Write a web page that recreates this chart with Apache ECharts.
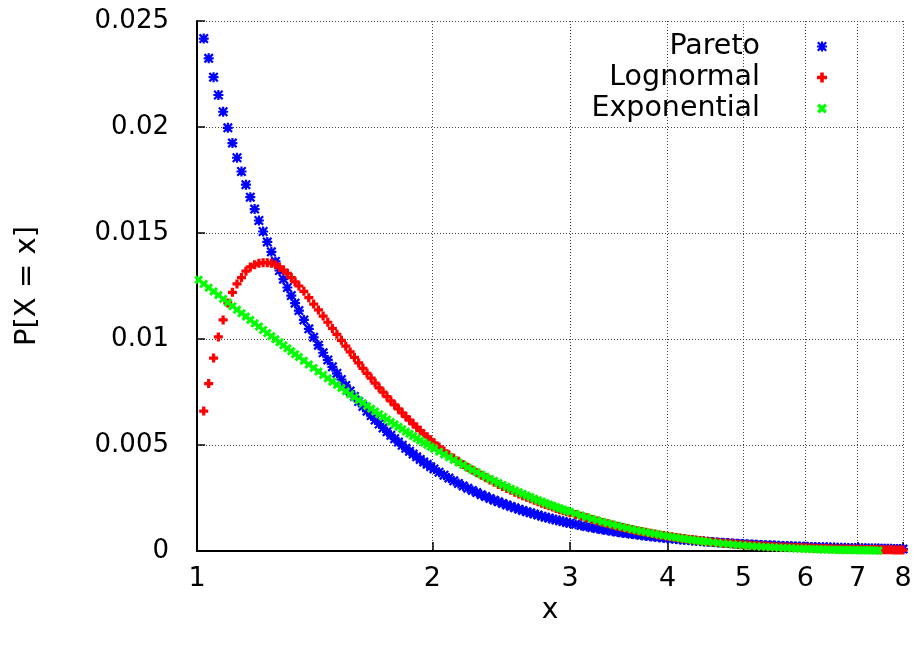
<!DOCTYPE html>
<html>
<head>
<meta charset="utf-8">
<title>P[X = x]</title>
<script src="https://cdn.jsdelivr.net/npm/echarts@6/dist/echarts.min.js"></script>
<style>
  html, body { margin: 0; padding: 0; background: #fff; }
  #chart { width: 917px; height: 649px; }
</style>
</head>
<body>
<div id="chart"></div>
<script>
// x positions of the samples
const xs = [
  1.005, 1.02, 1.035, 1.05, 1.065, 1.08, 1.095, 1.11, 1.125, 1.14, 1.155, 1.17,
  1.185, 1.2, 1.215, 1.23, 1.245, 1.26, 1.275, 1.29, 1.305, 1.32, 1.335, 1.35,
  1.37, 1.39, 1.41, 1.43, 1.45, 1.47, 1.49, 1.51, 1.53, 1.55, 1.57, 1.59, 1.61,
  1.63, 1.65, 1.67, 1.69, 1.71, 1.73, 1.75, 1.77, 1.79, 1.81, 1.83, 1.85, 1.87,
  1.89, 1.91, 1.93, 1.95, 1.97, 1.99, 2.01,
  2.04, 2.07, 2.1, 2.13, 2.16, 2.19, 2.22, 2.25, 2.28, 2.31, 2.34, 2.37, 2.4,
  2.43, 2.46, 2.49, 2.52, 2.55, 2.58, 2.61, 2.64, 2.67, 2.7, 2.73, 2.76, 2.79,
  2.82, 2.85, 2.88, 2.91, 2.94, 2.97, 3.0,
  3.05, 3.1, 3.15, 3.2, 3.25, 3.3, 3.35, 3.4, 3.45, 3.5, 3.55, 3.6, 3.65, 3.7,
  3.75, 3.8, 3.85, 3.9, 3.95, 4.0, 4.05, 4.1, 4.15, 4.2, 4.25, 4.3, 4.35, 4.4,
  4.45, 4.5,
  4.57, 4.64, 4.71, 4.78, 4.85, 4.92, 4.99, 5.06, 5.13, 5.2, 5.27, 5.34, 5.41,
  5.48, 5.55, 5.62, 5.69, 5.76, 5.83, 5.9, 5.97, 6.04, 6.11, 6.18, 6.25, 6.32,
  6.39, 6.46, 6.53, 6.6, 6.67, 6.74, 6.81, 6.88, 6.95, 7.02, 7.09, 7.16, 7.23,
  7.3, 7.37, 7.44, 7.51, 7.58, 7.65, 7.72, 7.79, 7.86, 7.93, 8.0
];

const pareto = [
  null, 0.02417, 0.02324, 0.02235, 0.02151, 0.02072, 0.01996, 0.01924, 0.01855,
  0.01790, 0.01728, 0.01669, 0.01613, 0.01559, 0.01507, 0.01458, 0.01411,
  0.01366, 0.01323, 0.01282, 0.01243, 0.01205, 0.01169, 0.01134,
  0.01090, 0.01048, 0.01008, 0.009708, 0.009351, 0.009011, 0.008688, 0.008381,
  0.008089, 0.007810, 0.007544, 0.007291, 0.007049, 0.006818, 0.006597,
  0.006386, 0.006184, 0.005990, 0.005805, 0.005628, 0.005458, 0.005295,
  0.005138, 0.004988, 0.004844, 0.004705, 0.004572, 0.004444, 0.004320,
  0.004202, 0.004088, 0.003978, 0.003872,
  0.003720, 0.003576, 0.003440, 0.003311, 0.003188, 0.003071, 0.002961,
  0.002855, 0.002755, 0.002659, 0.002568, 0.002482, 0.002399, 0.002320,
  0.002244, 0.002172, 0.002103, 0.002036, 0.001973, 0.001913, 0.001854,
  0.001799, 0.001745, 0.001694, 0.001645, 0.001597, 0.001552, 0.001508,
  0.001466, 0.001426, 0.001387, 0.001349, 0.001313,
  0.001256, 0.001202, 0.001151, 0.001103, 0.001058, 0.001015, 0.000975,
  0.000937, 0.000900, 0.000866, 0.000834, 0.000803, 0.000773, 0.000745,
  0.000719, 0.000694, 0.000670, 0.000647, 0.000625, 0.000604, 0.000584,
  0.000565, 0.000547, 0.000529, 0.000513, 0.000497, 0.000482, 0.000467,
  0.000453, 0.000439,
  0.000422, 0.000405, 0.000389, 0.000373, 0.000359, 0.000345, 0.000332,
  0.000320, 0.000309, 0.000297, 0.000287, 0.000277, 0.000267, 0.000258,
  0.000249, 0.000241, 0.000233, 0.000226, 0.000218, 0.000212, 0.000205,
  0.000199, 0.000192, 0.000187, 0.000181, 0.000176, 0.000171, 0.000166,
  0.000161, 0.000156, 0.000152, 0.000148, 0.000144, 0.000140, 0.000136,
  0.000132, 0.000129, 0.000125, 0.000122, 0.000119, 0.000116, 0.000113,
  0.000110, 0.000108, 0.000105, 0.000102, 0.000100, 0.000098, 0.000095,
  0.000093
];

const lognormal = [
  null, 0.0066, 0.0079, 0.0091, 0.0101, 0.0109, 0.0117, 0.0122, 0.0126, 0.0129,
  0.0132, 0.0134, 0.0135, 0.01357, 0.0136, 0.0136, 0.01357, 0.0135, 0.0134,
  0.01325, 0.0131, 0.0129, 0.0127, 0.0125,
  0.01225, 0.01195, 0.01165, 0.01137, 0.01108, 0.01079, 0.01050, 0.01022,
  0.00994, 0.00966, 0.00939, 0.00913, 0.00887, 0.00862, 0.00838, 0.00815,
  0.00792, 0.00770, 0.00749, 0.00728, 0.00708, 0.00689, 0.00670, 0.00652,
  0.00634, 0.00617, 0.00600, 0.00584, 0.00568, 0.00553, 0.00538, 0.00524,
  0.00510,
  0.00491, 0.00472, 0.00454, 0.00438, 0.00423, 0.00408, 0.00395, 0.00382,
  0.00369, 0.00357, 0.00346, 0.00335, 0.00324, 0.00314, 0.00304, 0.00295,
  0.00286, 0.00277, 0.00269, 0.00261, 0.00253, 0.00246, 0.00239, 0.00232,
  0.00225, 0.00219, 0.00213, 0.00207, 0.00201, 0.00195, 0.00190, 0.00185,
  0.00180,
  0.00172, 0.00164, 0.00157, 0.00149, 0.00142, 0.00135, 0.00129, 0.00123,
  0.00117, 0.00111, 0.00106, 0.00101, 0.00096, 0.00092, 0.00088, 0.00084,
  0.00080, 0.00076, 0.00073, 0.00070, 0.00067, 0.00064, 0.00061, 0.00059,
  0.00056, 0.00054, 0.00051, 0.00049, 0.00047, 0.00045,
  0.00043, 0.00040, 0.00038, 0.00036, 0.00034, 0.00032, 0.00030, 0.00029,
  0.00027, 0.00026, 0.00025, 0.00024, 0.00022, 0.00021, 0.00020, 0.00019,
  0.00019, 0.00018, 0.00017, 0.00016, 0.00015, 0.00015, 0.00014, 0.00013,
  0.00013, 0.00012, 0.00012, 0.00011, 0.00011, 0.00010, 0.00010, 0.000095,
  0.00009, 0.000087, 0.000083, 0.00008, 0.000077, 0.000074, 0.000071,
  0.000068, 0.000065, 0.000063, 0.00006, 0.000058, 0.000056, 0.000054,
  0.000052, 0.00005, 0.000048, 0.000046
];

const exponential = [
  0.01279, 0.01260, 0.01242, 0.01224, 0.01207, 0.01189, 0.01172, 0.01155,
  0.01138, 0.01122, 0.01106, 0.01090, 0.01074, 0.01059, 0.01043, 0.01028,
  0.01013, 0.009987, 0.009843, 0.009700, 0.009560, 0.009422, 0.009286,
  0.009152,
  0.008975, 0.008803, 0.008634, 0.008468, 0.008305, 0.008145, 0.007989,
  0.007835, 0.007685, 0.007537, 0.007392, 0.007250, 0.007111, 0.006974,
  0.006840, 0.006709, 0.006580, 0.006454, 0.006330, 0.006208, 0.006089,
  0.005972, 0.005857, 0.005745, 0.005634, 0.005526, 0.005420, 0.005316,
  0.005214, 0.005114, 0.005015, 0.004919, 0.004824,
  0.004686, 0.004552, 0.004421, 0.004294, 0.004171, 0.004051, 0.003935,
  0.003822, 0.003712, 0.003606, 0.003502, 0.003402, 0.003304, 0.003209,
  0.003117, 0.003028, 0.002941, 0.002857, 0.002775, 0.002695, 0.002618,
  0.002543, 0.002470, 0.002399, 0.002330, 0.002263, 0.002198, 0.002135,
  0.002074, 0.002014, 0.001957, 0.001900, 0.001846,
  0.001759, 0.001675, 0.001596, 0.001520, 0.001448, 0.001380, 0.001314,
  0.001252, 0.001193, 0.001136, 0.001083, 0.001031, 0.000983, 0.000936,
  0.000892, 0.000849, 0.000809, 0.000771, 0.000734, 0.000700, 0.000666,
  0.000635, 0.000605, 0.000576, 0.000549, 0.000523, 0.000498, 0.000474,
  0.000452, 0.000431,
  0.000403, 0.000376, 0.000352, 0.000329, 0.000307, 0.000287, 0.000268,
  0.000250, 0.000234, 0.000219, 0.000204, 0.000191, 0.000178, 0.000167,
  0.000156, 0.000145, 0.000136, 0.000127, 0.000119, 0.000111, 0.000104,
  0.000097, 0.000090, 0.000085, 0.000079, 0.000074, 0.000069, 0.000064,
  0.000060, 0.000056, 0.000053, 0.000049, 0.000046, 0.000043, 0.000040,
  0.000037, 0.000035, 0.000033, 0.000031, 0.000029, 0.000027, 0.000025,
  null, null, null, null, null, null, null, null
];

const seriesNames = ['Pareto', 'Lognormal', 'Exponential'];
const xTicks = [1, 2, 3, 4, 5, 6, 7, 8];
const yTicks = [0, 0.005, 0.01, 0.015, 0.02, 0.025];

// gnuplot style point types: + , x and the two overlaid (asterisk)
const PLUS = 'M3.2 0H6.8V3.2H10V6.8H6.8V10H3.2V6.8H0V3.2H3.2Z';
const CROSS = 'M0 2.4L2.4 0L5 2.6L7.6 0L10 2.4L7.4 5L10 7.6L7.6 10L5 7.4L2.4 10L0 7.6L2.6 5Z';
const STAR = 'M3.9 0H6.1V3.9H10V6.1H6.1V10H3.9V6.1H0V3.9H3.9Z ' +
  'M0 1.6L1.6 0L5 3.4L8.4 0L10 1.6L6.6 5L10 8.4L8.4 10L5 6.6L1.6 10L0 8.4L3.4 5Z';

const FONT = 'DejaVu Sans';

function pairs(ys) {
  const out = [];
  for (let i = 0; i < xs.length; i++) {
    if (ys[i] != null) out.push([xs[i], ys[i]]);
  }
  return out;
}

const chart = echarts.init(document.getElementById('chart'), null, { renderer: 'canvas' });

const legendTops = [32, 63, 94];

const option = {
  backgroundColor: '#fff',
  animation: false,
  grid: {
    left: 197, right: 14, top: 21, bottom: 98,
    containLabel: false,
    outerBoundsMode: 'none'
  },
  legend: seriesNames.map((name, i) => ({
    data: [name],
    orient: 'vertical',
    align: 'right',
    right: 90,
    top: legendTops[i],
    padding: 0,
    itemGap: 0,
    itemWidth: 114,
    itemHeight: 10,
    selectedMode: false,
    textStyle: { fontFamily: FONT, fontSize: 28.5, color: '#000' }
  })),
  xAxis: {
    type: 'log',
    logBase: 10,
    min: 1,
    max: 8,
    name: 'x',
    nameLocation: 'middle',
    nameGap: 44,
    nameTextStyle: { fontFamily: FONT, fontSize: 28, color: '#000' },
    axisLine: { show: true, lineStyle: { color: '#000', width: 2 } },
    axisTick: { show: true, inside: true, length: 9, customValues: xTicks,
      lineStyle: { color: '#000', width: 1.5 } },
    axisLabel: { show: true, customValues: xTicks, margin: 14,
      fontFamily: FONT, fontSize: 27, color: '#000',
      formatter: v => String(Math.round(v)) },
    splitLine: { show: true, lineStyle: { color: '#444', width: 1, type: [1, 2] } },
    minorTick: { show: false },
    minorSplitLine: { show: false }
  },
  yAxis: {
    type: 'value',
    min: 0,
    max: 0.025,
    interval: 0.005,
    name: 'P[X = x]',
    nameLocation: 'middle',
    nameGap: 155,
    nameTextStyle: { fontFamily: FONT, fontSize: 29, color: '#000' },
    axisLine: { show: true, lineStyle: { color: '#000', width: 2 } },
    axisTick: { show: true, inside: true, length: 8, customValues: yTicks,
      lineStyle: { color: '#000', width: 1.5 } },
    axisLabel: { show: true, customValues: yTicks, margin: 28,
      fontFamily: FONT, fontSize: 26, color: '#000' },
    splitLine: { show: true, lineStyle: { color: '#444', width: 1, type: [1, 2] } }
  },
  series: [
    {
      name: 'Pareto', type: 'scatter', data: pairs(pareto),
      symbol: 'path://' + STAR, symbolSize: 10,
      itemStyle: { color: '#0000ff', opacity: 1 }
    },
    {
      name: 'Lognormal', type: 'scatter', data: pairs(lognormal),
      symbol: 'path://' + PLUS, symbolSize: 9,
      itemStyle: { color: '#ff0000', opacity: 1 }
    },
    {
      name: 'Exponential', type: 'scatter', data: pairs(exponential),
      symbol: 'path://' + CROSS, symbolSize: 9,
      itemStyle: { color: '#00ff00', opacity: 1 }
    }
  ]
};

chart.setOption(option);
</script>
</body>
</html>
